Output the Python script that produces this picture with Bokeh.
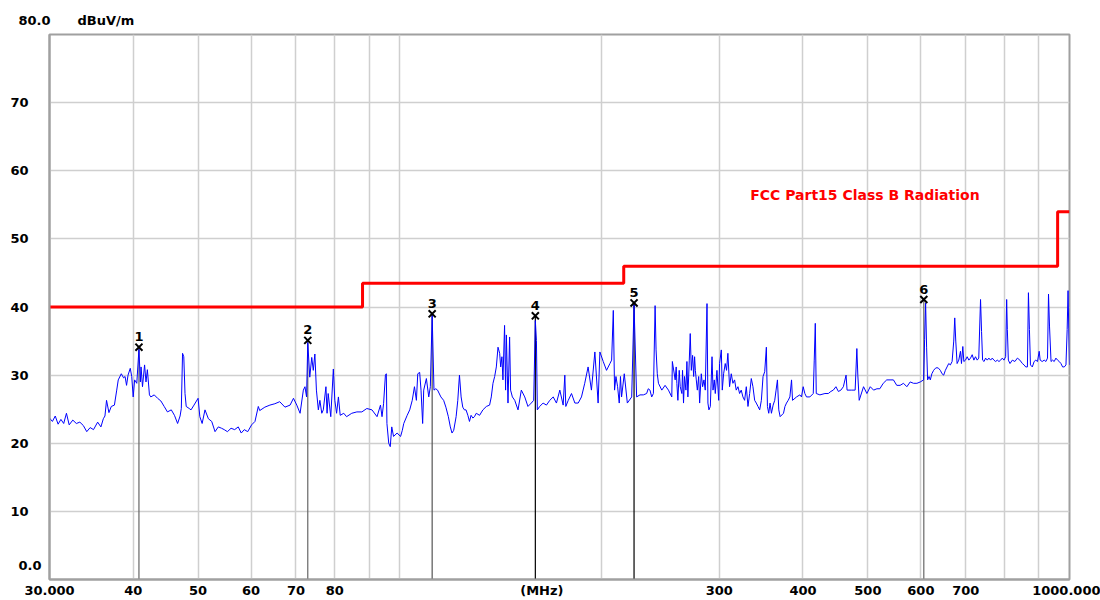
from bokeh.plotting import figure
from bokeh.models import FixedTicker, Label
from bokeh.embed import file_html
from bokeh.resources import INLINE
from bokeh.core.properties import value

# ---------------- data ----------------
seg1_freq = [30.0, 30.3, 30.6, 30.9, 31.2, 31.5, 31.8, 32.1, 32.5, 32.9, 33.3, 33.7, 34.1, 34.5, 34.9,
             35.4, 35.8, 36.1, 36.3, 36.5, 36.8, 37.1, 37.5, 37.8, 38.0, 38.4, 38.7, 38.9, 39.1, 39.3,
             39.6, 39.8, 40.0, 40.2, 40.5, 40.8, 41.0, 41.1, 41.3, 41.6, 41.8, 42.0, 42.3, 42.5, 43.0,
             43.5, 44.0, 44.5, 45.0, 45.6, 46.1, 46.6, 47.0, 47.2, 47.4, 47.6, 47.8, 48.0, 48.5, 48.8,
             49.3, 50.0, 50.3, 50.7, 51.2, 51.8, 52.4, 53.0, 53.6, 54.2, 54.7, 55.3, 56.0, 56.7, 57.4,
             58.0, 58.6, 59.3, 60.1, 60.8, 61.5]
seg1_level = [23.7, 23.2, 24.0, 22.8, 23.5, 22.9, 24.4, 22.7, 23.4, 22.9, 23.1, 22.6, 21.7, 22.3, 22.0,
              23.1, 22.4, 23.6, 24.0, 26.3, 24.5, 25.4, 25.6, 27.8, 29.3, 30.2, 29.6, 29.8, 28.5, 30.0,
              31.0, 29.8, 26.8, 29.3, 28.8, 33.8, 29.0, 31.2, 28.3, 31.5, 29.0, 30.8, 27.1, 26.8, 27.1,
              26.6, 26.2, 25.4, 24.6, 24.9, 24.1, 22.9, 24.0, 25.1, 33.2, 32.7, 27.3, 25.4, 25.1, 24.9,
              25.6, 26.6, 23.9, 22.9, 24.9, 23.6, 23.2, 21.7, 22.4, 22.2, 22.0, 21.7, 22.2, 22.0, 22.4,
              21.5, 22.0, 21.7, 22.7, 23.2, 25.4]

seg2_freq = [61.8, 62.9, 64.0, 65.1, 66.2, 67.4, 68.6, 69.4, 70.2, 71.0, 71.8, 72.2, 72.6, 72.9, 73.4,
             73.9, 74.3, 74.7, 75.1, 75.6, 76.0, 76.5, 76.9, 77.6, 77.9, 78.2, 78.9, 79.6, 80.0, 80.5,
             81.0, 81.5, 82.5, 83.3, 84.8, 86.3, 87.8, 89.3, 90.9, 92.5, 93.6, 94.1, 94.6, 95.2, 95.5,
             95.7, 96.3, 96.8, 97.3, 97.9, 99.1, 100.3, 100.9, 101.4, 102.6, 103.5, 104.4, 105.2, 105.9,
             106.4, 107.1, 107.6, 108.2, 108.6, 109.6, 110.5, 111.1, 111.8, 112.5, 113.2, 113.9, 115.2,
             116.3, 117.2, 118.2, 119.0, 119.7, 120.4, 121.4, 122.1, 122.8, 123.5, 124.2, 124.9]
seg2_level = [24.8, 25.3, 25.6, 25.8, 26.1, 25.3, 25.6, 26.6, 25.6, 24.4, 27.8, 28.3, 26.8, 34.8, 29.7,
              32.6, 30.7, 33.1, 27.8, 24.9, 26.3, 24.4, 24.9, 28.3, 24.4, 27.3, 23.9, 30.9, 26.3, 24.4,
              26.8, 24.1, 24.4, 23.9, 24.4, 24.6, 24.6, 25.1, 24.9, 23.9, 25.6, 23.9, 25.8, 30.0, 30.2,
              22.9, 20.0, 19.5, 22.4, 21.0, 21.5, 21.0, 21.9, 22.9, 24.1, 24.9, 26.3, 28.3, 26.3,
              30.2, 30.4, 27.8, 22.9, 27.8, 29.5, 26.8, 28.3, 38.8, 27.8, 28.0, 27.8, 26.8,
              26.3, 25.3, 23.9, 22.4, 21.5, 21.9, 23.9, 26.3, 30.0, 26.8, 25.3, 24.9]

seg3_freq = [125.6, 126.4, 127.1, 127.8, 128.6, 129.3, 130.1, 131.6, 133.1, 134.7, 136.2, 137.0, 137.8,
             138.6, 139.4, 140.2, 141.0, 141.5, 142.1, 142.6, 143.4, 143.9, 144.3, 145.1, 145.9, 146.4,
             147.3, 148.5, 150.2, 151.9, 153.7, 155.4, 157.2, 158.5, 159.4, 160.0, 160.5, 161.8, 163.7,
             165.6, 167.5, 169.5, 171.4, 173.4, 175.4, 176.4, 177.0, 178.5, 180.5, 182.6, 184.7, 186.8,
             188.9, 191.1, 193.3, 195.6, 197.8, 199.0, 201.3, 203.6, 206.0, 207.2, 208.4, 209.3, 210.3,
             211.5, 212.7, 213.6, 214.4, 216.4, 218.7, 222.0, 223.8, 225.8, 228.4, 231.1, 233.7, 235.0,
             236.4, 237.8, 239.2, 240.6, 241.4, 242.4, 243.4, 246.2, 249.0, 251.9, 254.8]
seg3_level = [24.9, 24.1, 23.2, 24.1, 23.7, 23.9, 24.4, 24.1, 24.9, 25.4, 25.6, 26.8, 28.8,
              29.8, 31.2, 34.1, 33.2, 31.2, 32.7, 29.3, 37.3, 27.8, 35.9, 25.9, 35.6, 27.8,
              26.8, 26.3, 24.9, 27.8, 26.8, 25.4, 25.9, 26.3, 38.0, 35.1, 24.9, 25.4, 25.9,
              25.6, 26.3, 26.8, 25.9, 27.8, 25.6, 30.0, 25.4, 26.3, 27.3, 25.9, 25.9, 26.8,
              28.8, 31.2, 27.8, 33.4, 25.9, 33.4, 32.0, 30.7, 31.7, 32.2, 39.5, 27.8, 29.8,
              28.3, 25.9, 29.8, 26.8, 30.2, 25.9, 26.8, 40.3, 26.8, 27.1, 27.1, 27.3, 28.0,
              27.8, 26.8, 27.3, 40.2, 33.7, 30.2, 28.8, 27.8, 28.5, 27.8, 26.8]

seg4_freq = [255.3, 257.8, 258.7, 259.3, 260.2, 261.4, 262.3, 263.8, 264.4, 265.3, 266.2, 267.5, 268.4,
             269.3, 270.6, 271.5, 272.5, 273.7, 274.7, 275.6, 276.3, 277.2, 278.2, 279.5, 280.4, 282.0,
             283.3, 284.6, 285.9, 287.6, 288.5, 289.5, 290.9, 292.6, 293.6, 294.9, 295.9, 297.6, 299.4,
             300.3, 302.1, 303.1, 304.5, 306.2, 307.6, 309.0, 310.8, 312.6, 314.4, 316.2, 318.0, 319.9,
             321.7, 323.5, 325.4, 327.3, 329.2, 331.1, 333.0, 334.9, 336.8, 338.8, 340.7, 342.7, 344.7,
             346.7, 348.7, 350.7, 352.7, 354.0, 355.6, 357.2, 358.9, 361.0, 363.0, 364.7, 366.4, 368.1,
             369.8, 374.1, 376.0, 378.0, 380.2, 382.4, 384.6, 385.9, 391.3, 395.7, 398.0, 400.3, 402.6,
             404.9, 409.6, 414.4, 415.8, 417.3, 418.7, 424.0, 431.4, 436.4, 440.2, 444.0, 448.0, 451.8,
             455.7, 459.6, 463.9, 465.5, 473.1, 478.6, 481.4, 483.0, 485.3, 492.6, 498.3, 504.1, 509.9,
             515.8]
seg4_level = [32.0, 29.3, 31.2, 28.8, 26.3, 30.7, 28.3, 27.3, 30.7, 25.9, 29.8, 27.8, 32.0,
              26.8, 32.2, 36.1, 30.7, 32.9, 29.8, 32.7, 30.7, 29.3, 27.8, 29.8, 25.9, 30.2,
              28.3, 29.3, 27.8, 40.5, 25.9, 24.9, 25.4, 32.7, 27.8, 29.3, 27.3, 30.7, 26.3,
              31.7, 33.7, 27.8, 30.2, 31.7, 30.7, 33.2, 28.3, 30.2, 28.8, 29.3, 27.8, 28.3,
              27.3, 27.8, 26.8, 26.3, 28.3, 25.4, 27.3, 29.5, 28.3, 26.3, 25.9, 25.4, 24.9,
              26.3, 29.8, 30.5, 34.1, 25.4, 24.4, 25.9, 24.4, 25.6, 26.3, 27.8, 29.3, 24.9,
              23.9, 24.4, 25.4, 25.9, 26.3, 26.8, 29.3, 26.3, 26.8, 27.1, 26.8, 28.3, 27.3,
              26.8, 26.8, 27.3, 32.2, 37.6, 27.3, 27.1, 27.3, 27.3, 27.6, 27.8, 28.3, 27.6,
              27.8, 28.3, 30.0, 27.8, 27.8, 27.8, 33.9, 30.0, 26.3, 28.3, 27.3, 28.3, 27.8,
              28.0]

seg5_freq = [521.0, 527.1, 533.5, 539.6, 545.9, 552.2, 558.6, 565.1, 571.7, 578.3, 585.0, 591.8, 598.7,
             605.6, 607.7, 609.8, 611.9, 614.0, 617.0, 619.7, 623.0, 626.8, 630.5, 634.1, 637.7, 641.4,
             645.2, 648.9, 652.6, 656.4, 660.2, 664.0, 667.9, 671.7, 674.0, 676.4, 679.5, 683.4, 687.4,
             689.8, 693.0, 695.4, 699.4, 703.4, 707.5, 711.6, 715.7, 719.8, 723.9, 728.1, 732.0, 736.5,
             739.1, 741.7, 745.5, 749.4, 753.7, 758.0, 762.4, 766.8, 771.2, 775.7, 780.2, 784.7, 789.2,
             793.7, 798.3, 802.9, 805.7, 807.6, 810.4, 815.0, 821.6, 828.8, 836.0, 843.2, 850.5, 855.4,
             860.4, 865.3, 868.3, 871.3, 874.4, 880.0, 885.5, 890.6, 895.8, 901.0, 904.1, 910.4, 916.7,
             922.0, 927.2, 930.4, 933.6, 938.5, 943.4, 948.8, 954.3, 959.8, 965.4, 971.0, 976.6, 982.2,
             987.9, 992.0, 995.0, 997.5, 1000.0]
seg5_level = [28.0, 28.8, 29.3, 29.3, 29.3, 28.5, 28.5, 28.8, 28.3, 29.0, 28.8, 28.8, 29.0,
              29.3, 35.2, 40.6, 34.0, 29.3, 29.8, 29.3, 30.2, 30.7, 31.0, 31.1, 31.0, 30.7,
              30.2, 30.0, 30.7, 31.2, 31.7, 31.5, 32.0, 35.0, 38.4, 35.0, 31.7, 32.2, 33.5,
              31.7, 34.2, 32.0, 32.2, 32.7, 32.2, 32.5, 33.0, 32.2, 32.7, 32.2, 32.5, 41.1,
              36.4, 32.2, 32.0, 32.5, 32.2, 32.5, 32.2, 32.5, 32.2, 32.0, 32.2, 32.0, 32.2,
              32.5, 32.2, 32.7, 41.1, 36.7, 32.2, 31.7, 32.2, 32.0, 32.5, 32.2, 31.7, 31.5,
              31.2, 31.2, 42.1, 36.7, 31.5, 31.2, 32.0, 32.2, 32.0, 33.5, 32.2, 32.0, 32.2,
              32.0, 32.5, 41.9, 37.2, 32.0, 32.2, 32.0, 32.5, 32.2, 32.0, 31.7, 31.2, 31.2,
              31.5, 36.7, 42.4, 36.9, 31.5]

# FCC Part 15 Class B limit (edges in MHz, level in dBuV/m)
limit_freq = [30, 88, 216, 960, 1000]
limit_level = [40.0, 43.5, 46.0, 54.0, 54.0]
limit_name = "FCC Part15 Class B Radiation"

# peak markers
marker_ids = ["1", "2", "3", "4", "5", "6"]
marker_freq = [40.8, 72.9, 111.8, 159.4, 223.8, 606.0]
marker_level = [34.1, 35.1, 39.0, 38.7, 40.6, 41.1]

# axes
x_tick_values = [30, 40, 50, 60, 70, 80, 163, 300, 400, 500, 600, 700, 1000]
x_tick_labels = ["30.000", "40", "50", "60", "70", "80", "(MHz)", "300", "400", "500", "600", "700", "1000.000"]
x_grid_values = [40, 50, 60, 70, 80, 90, 100, 200, 300, 400, 500, 600, 700, 800, 900]
y_tick_values = [10, 20, 30, 40, 50, 60, 70]
y_tick_labels = ["10", "20", "30", "40", "50", "60", "70"]
y_end_values = [0, 80]
y_end_labels = ["0.0", "80.0"]
unit_label = "dBuV/m"

# ---------------- assemble ----------------
segments = [(seg1_freq, seg1_level), (seg2_freq, seg2_level), (seg3_freq, seg3_level),
            (seg4_freq, seg4_level), (seg5_freq, seg5_level)]
trace_freq, trace_level = [], []
for f, l in segments:
    assert len(f) == len(l), (len(f), len(l))
    trace_freq += f
    trace_level += l

FONT = "DejaVu Sans"

p = figure(width=1100, height=600, x_axis_type="log", x_range=(30, 1000), y_range=(0, 80),
           output_backend="svg", toolbar_location=None,
           min_border_left=49, min_border_right=31, min_border_top=34, min_border_bottom=21)
p.background_fill_color = "white"
p.border_fill_color = "white"
p.outline_line_color = "#a0a0a0"
p.outline_line_width = 2

p.xaxis.ticker = FixedTicker(ticks=x_tick_values)
p.xaxis.major_label_overrides = {v: t for v, t in zip(x_tick_values, x_tick_labels)}
p.yaxis.ticker = FixedTicker(ticks=y_tick_values)
p.yaxis.major_label_overrides = {v: t for v, t in zip(y_tick_values, y_tick_labels)}
p.xgrid.ticker = FixedTicker(ticks=x_grid_values)
p.ygrid.ticker = FixedTicker(ticks=y_tick_values)
for g in (p.xgrid, p.ygrid):
    g.grid_line_color = "#cfcfcf"
    g.grid_line_width = 1.5

for ax in (p.xaxis, p.yaxis):
    ax.axis_line_color = "#a0a0a0"
    ax.axis_line_width = 2
    ax.major_tick_line_color = None
    ax.minor_tick_line_color = None
    ax.major_tick_out = 0
    ax.major_tick_in = 0
    ax.major_label_text_font = FONT
    ax.major_label_text_font_style = "bold"
    ax.major_label_text_font_size = "13px"
    ax.major_label_text_color = "black"
p.xaxis.major_label_standoff = 3
p.yaxis.major_label_standoff = 21

# end labels of the y scale and unit (placed in side panels so they are not clipped)
p.add_layout(Label(x=30, y=y_end_values[1], text=y_end_labels[1], x_offset=-31, y_offset=14,
                   text_align="left", text_baseline="middle", text_font=FONT,
                   text_font_style="bold", text_font_size="13px", text_color="black"), "above")
p.add_layout(Label(x=30, y=y_end_values[1], text=unit_label, x_offset=28, y_offset=14,
                   text_align="left", text_baseline="middle", text_font=FONT,
                   text_font_style="bold", text_font_size="13px", text_color="black"), "above")
p.add_layout(Label(x=30, y=y_end_values[0], text=y_end_labels[0], x_offset=-31, y_offset=14,
                   text_align="left", text_baseline="middle", text_font=FONT,
                   text_font_style="bold", text_font_size="13px", text_color="black"), "right")

# limit line
p.step(limit_freq, limit_level, mode="after", line_color="#ff0000", line_width=3)
p.add_layout(Label(x=333.6, y=56.5, text=limit_name, text_align="left", text_baseline="middle",
                   text_font=FONT, text_font_style="bold", text_font_size="14px",
                   text_color="#ff0000"))

# marker lines
marker_line_colors = ["#666666", "#666666", "#555555", "#000000", "#000000", "#666666"]
p.segment(x0=marker_freq, y0=0, x1=marker_freq, y1=marker_level,
          line_color=marker_line_colors, line_width=1.2)

# measured trace
p.line(trace_freq, trace_level, line_color="#0000ff", line_width=1)

# marker symbols and numbers
p.scatter(marker_freq, marker_level, marker="x", size=10, line_width=2, line_color="black")
p.text(marker_freq, marker_level, text=marker_ids, y_offset=-6, text_align="center",
       text_baseline="bottom", text_font=value(FONT), text_font_size="13px",
       text_font_style="bold", text_color="black")

open("out.html", "w").write(file_html(p, INLINE))
